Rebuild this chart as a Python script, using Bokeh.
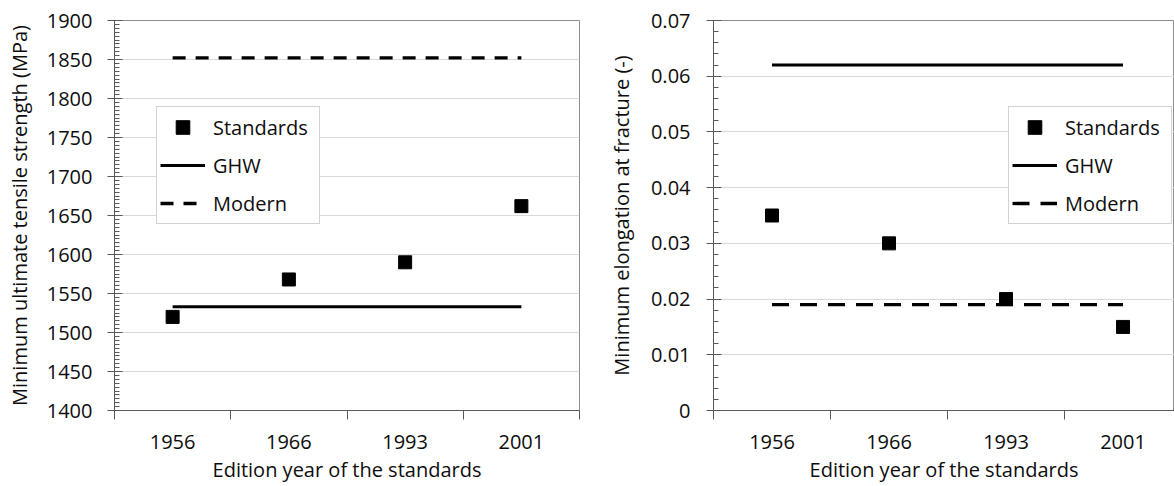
from bokeh.plotting import figure
from bokeh.layouts import row
from bokeh.models import (Range1d, LinearAxis, FixedTicker, SingleIntervalTicker, Grid,
                          Legend, LegendItem, CustomJSTickFormatter)
from bokeh.embed import file_html
from bokeh.resources import INLINE

# ---------------- data ----------------
years = ["1956", "1966", "1993", "2001"]
uts_standards = [1520, 1568, 1590, 1662]
uts_ghw = 1533
uts_modern = 1852
elong_standards = [0.035, 0.030, 0.020, 0.015]
elong_ghw = 0.062
elong_modern = 0.019
x_title = "Edition year of the standards"
y_title_left = "Minimum ultimate tensile strength (MPa)"
y_title_right = "Minimum elongation at fracture (-)"
series_names = ["Standards", "GHW", "Modern"]

FONT = "Open Sans"
FS = "20px"
TXT = "#0d0d0d"
AX = "#595959"

centers = [i + 0.5 for i in range(len(years))]
bounds = [float(i) for i in range(len(years) + 1)]


def make_panel(width, border_left, border_right, x_end, y_start, y_end, interval, n_minor,
               std, ghw, modern, ytitle, dash, legend_x, formatter=None,
               ylab_standoff=15, ytitle_standoff=16):
    p = figure(width=width, height=486, output_backend="svg", toolbar_location=None,
               x_axis_type=None, y_axis_type=None,
               x_range=Range1d(0, x_end), y_range=Range1d(y_start, y_end),
               min_border_left=border_left, min_border_right=border_right,
               min_border_top=20, min_border_bottom=76)
    p.outline_line_color = "#8c8c8c"
    p.outline_line_width = 1
    p.background_fill_color = "white"
    p.border_fill_color = "white"

    xaxis = LinearAxis(ticker=FixedTicker(ticks=centers, minor_ticks=bounds),
                       major_label_overrides={c: y for c, y in zip(centers, years)})
    xaxis.axis_label = x_title
    xaxis.major_tick_in = 0
    xaxis.major_tick_out = 0
    xaxis.minor_tick_in = 0
    xaxis.minor_tick_out = 9
    xaxis.major_label_standoff = 15
    xaxis.axis_label_standoff = 4
    p.add_layout(xaxis, "below")

    yticker = SingleIntervalTicker(interval=interval, num_minor_ticks=n_minor)
    yaxis = LinearAxis(ticker=yticker)
    if formatter is not None:
        yaxis.formatter = formatter
    yaxis.axis_label = ytitle
    yaxis.major_tick_in = 8
    yaxis.major_tick_out = 7
    yaxis.minor_tick_in = 5
    yaxis.minor_tick_out = 0
    yaxis.major_label_standoff = ylab_standoff
    yaxis.axis_label_standoff = ytitle_standoff
    p.add_layout(yaxis, "left")

    for ax in (xaxis, yaxis):
        ax.axis_line_color = AX
        ax.axis_line_width = 1
        ax.major_tick_line_color = AX
        ax.minor_tick_line_color = AX
        ax.major_label_text_font = FONT
        ax.major_label_text_font_size = FS
        ax.major_label_text_color = TXT
        ax.axis_label_text_font = FONT
        ax.axis_label_text_font_size = FS
        ax.axis_label_text_font_style = "normal"
        ax.axis_label_text_color = TXT

    p.add_layout(Grid(dimension=1, ticker=yticker, grid_line_color="#d9d9d9", grid_line_width=1))

    r_std = p.scatter(centers, std, marker="square", size=13, color="black")
    r_ghw = p.line([centers[0], centers[-1]], [ghw, ghw], line_color="black", line_width=3)
    r_mod = p.line([centers[0], centers[-1]], [modern, modern], line_color="black",
                   line_width=3.3, line_dash=dash)

    legend = Legend(items=[LegendItem(label=series_names[0], renderers=[r_std]),
                           LegendItem(label=series_names[1], renderers=[r_ghw]),
                           LegendItem(label=series_names[2], renderers=[r_mod])],
                    location=(legend_x, 186))
    legend.border_line_color = "#a6a6a6"
    legend.border_line_width = 1
    legend.background_fill_color = "white"
    legend.background_fill_alpha = 1
    legend.padding = 3
    legend.margin = 0
    legend.spacing = 4
    legend.glyph_width = 45
    legend.glyph_height = 34
    legend.label_height = 20
    legend.label_width = 103
    legend.label_standoff = 8
    legend.label_text_font = FONT
    legend.label_text_font_size = FS
    legend.label_text_color = TXT
    p.add_layout(legend)
    return p


p1 = make_panel(590, 114, 11, 4, 1400, 1900, 50, 10,
                uts_standards, uts_ghw, uts_modern, y_title_left, "13 10", 42,
                ylab_standoff=15, ytitle_standoff=11)

fmt = CustomJSTickFormatter(code="return Math.abs(tick) < 1e-12 ? '0' : tick.toFixed(2);")
p2 = make_panel(584, 123, 0, 3.94, 0, 0.07, 0.01, 5,
                elong_standards, elong_ghw, elong_modern, y_title_right, "17 11", 295,
                formatter=fmt, ylab_standoff=16, ytitle_standoff=13)

layout = row(p1, p2)
open("out.html", "w").write(file_html(layout, INLINE))
